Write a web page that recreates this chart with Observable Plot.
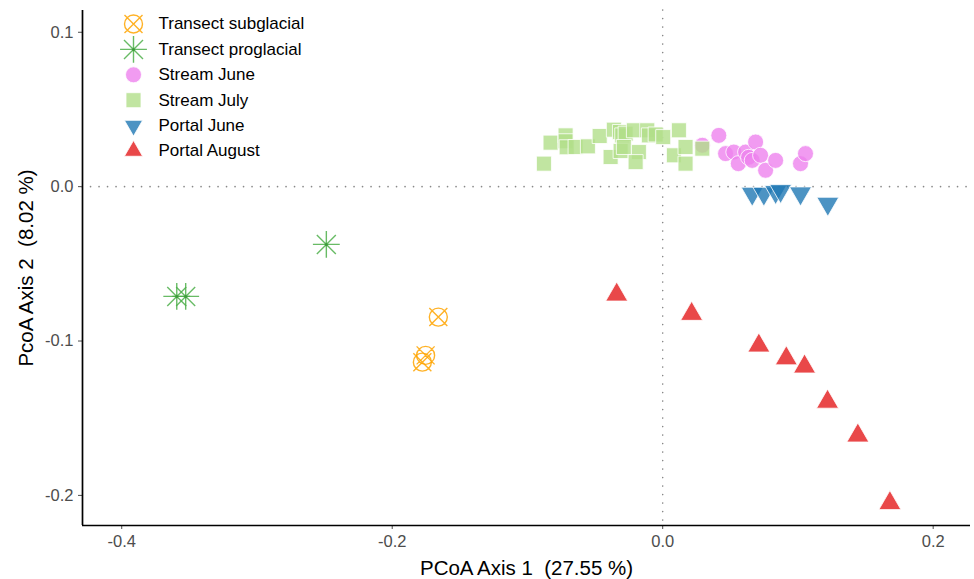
<!DOCTYPE html>
<html><head><meta charset="utf-8">
<script src="https://cdn.jsdelivr.net/npm/d3@7"></script>
<script src="https://cdn.jsdelivr.net/npm/@observablehq/plot@0.6"></script>
<style>
body{margin:0;background:#fff}
#chart svg text{white-space:pre}
</style>
</head><body><div id="chart"></div>
<script>
// ---- data ----
const groups = ["Transect subglacial","Transect proglacial","Stream June","Stream July","Portal June","Portal August"];
const subglacialX = [-0.1659,-0.1753,-0.1777];
const subglacialY = [-0.0845,-0.1093,-0.1137];
const proglacialX = [-0.2487,-0.3593,-0.3527];
const proglacialY = [-0.0374,-0.0711,-0.0711];
const streamJuneX = [0.0293,0.0415,0.0465,0.0526,0.0559,0.0613,0.0635,0.0662,0.0687,0.0724,0.0761,0.0835,0.1019,0.1056];
const streamJuneY = [0.0268,0.0332,0.0214,0.0224,0.0149,0.0224,0.0190,0.0170,0.0289,0.0203,0.0106,0.0170,0.0149,0.0214];
const streamJulyX = [-0.0878,-0.0829,-0.0718,-0.0718,-0.0710,-0.0644,-0.0553,-0.0466,-0.0385,-0.0361,-0.0316,-0.0299,-0.0311,-0.0274,-0.0287,-0.0213,-0.0176,-0.0200,-0.0114,-0.0102,-0.0052,0.0004,0.0120,0.0083,0.0169,0.0169,0.0293];
const streamJulyY = [0.0149,0.0285,0.0332,0.0294,0.0255,0.0257,0.0261,0.0328,0.0192,0.0369,0.0354,0.0332,0.0231,0.0343,0.0257,0.0365,0.0224,0.0159,0.0365,0.0332,0.0338,0.0321,0.0365,0.0203,0.0257,0.0149,0.0246];
const portalJuneX = [0.0662,0.0748,0.0835,0.0872,0.1019,0.1221];
const portalJuneY = [-0.0045,-0.0045,-0.0034,-0.0027,-0.0043,-0.0110];
const portalAugustX = [-0.0340,0.0214,0.0711,0.0914,0.1049,0.1219,0.1443,0.1680];
const portalAugustY = [-0.0700,-0.0825,-0.1030,-0.1113,-0.1166,-0.1394,-0.1613,-0.2051];
const xTicks = [-0.4,-0.2,0.0,0.2];
const yTicks = [-0.2,-0.1,0.0,0.1];
const xDomain = [-0.429, 0.2276];
const yDomain = [-0.2195, 0.1141];
const refLines = [0];
const xTitle = "PCoA Axis 1  (27.55 %)";
const yTitle = "PcoA Axis 2  (8.02 %)";

const xs = [subglacialX, proglacialX, streamJuneX, streamJulyX, portalJuneX, portalAugustX];
const ys = [subglacialY, proglacialY, streamJuneY, streamJulyY, portalJuneY, portalAugustY];
const rows = groups.flatMap((g, gi) => xs[gi].map((x, i) => ({group: g, x, y: ys[gi][i]})));

// ---- symbols (R pch-like) ----
const sym = fn => ({draw(ctx, size){ fn(ctx, Math.sqrt(size / Math.PI)); }});
const circleX = sym((c, s) => {
  c.moveTo(s, 0); c.arc(0, 0, s, 0, 2 * Math.PI);
  c.moveTo(-s, -s); c.lineTo(s, s); c.moveTo(-s, s); c.lineTo(s, -s);
});
const asterisk8 = sym((c, s) => {
  const p = s * Math.SQRT2;
  c.moveTo(-p, 0); c.lineTo(p, 0); c.moveTo(0, -p); c.lineTo(0, p);
  c.moveTo(-s, -s); c.lineTo(s, s); c.moveTo(-s, s); c.lineTo(s, -s);
});
const circle = sym((c, s) => { c.moveTo(s, 0); c.arc(0, 0, s, 0, 2 * Math.PI); c.closePath(); });
const square = sym((c, s) => { c.moveTo(-s, -s); c.lineTo(s, -s); c.lineTo(s, s); c.lineTo(-s, s); c.closePath(); });
const triUp = sym((c, s) => { const h = s * Math.sqrt(3) / 2; c.moveTo(0, -s); c.lineTo(h, s / 2); c.lineTo(-h, s / 2); c.closePath(); });
const triDown = sym((c, s) => { const h = s * Math.sqrt(3) / 2; c.moveTo(0, s); c.lineTo(h, -s / 2); c.lineTo(-h, -s / 2); c.closePath(); });

const styles = [
  {symbol: circleX, r: 9, fill: "none", stroke: "#FFA500", strokeOpacity: 0.85, strokeWidth: 1.4},
  {symbol: asterisk8, r: 9.5, fill: "none", stroke: "#4DAF4A", strokeOpacity: 0.85, strokeWidth: 1.4},
  {symbol: circle, r: 8, fill: "#EE82EE", fillOpacity: 0.8, stroke: "white", strokeWidth: 0.8},
  {symbol: square, r: 7.5, fill: "#B2DF8A", fillOpacity: 0.8, stroke: "white", strokeWidth: 0.8},
  {symbol: triDown, r: 12.7, fill: "#1F78B4", fillOpacity: 0.8, stroke: "white", strokeWidth: 0.8},
  {symbol: triUp, r: 12.7, fill: "#E31A1C", fillOpacity: 0.8, stroke: "white", strokeWidth: 0.8}
];
const legendSize = [9, 9.5, 8, 7.5, 10.5, 10.5];

const marks = [
  Plot.ruleX(refLines, {stroke: "#888888", strokeWidth: 1.6, strokeDasharray: "0.1,8.4", strokeLinecap: "round"}),
  Plot.ruleY(refLines, {stroke: "#888888", strokeWidth: 1.6, strokeDasharray: "0.1,8.4", strokeLinecap: "round"}),
  Plot.ruleY([yDomain[0]], {stroke: "black", strokeWidth: 1.7}),
  Plot.ruleX([xDomain[0]], {stroke: "black", strokeWidth: 1.7})
];
groups.forEach((g, gi) => {
  marks.push(Plot.dot(rows.filter(d => d.group === g), {x: "x", y: "y", ...styles[gi]}));
  if (gi === 1) marks.push(Plot.dot(rows.filter(d => d.group === g), {x: "x", y: "y", r: 1.5, fill: "#3d9a3a"}));
});
// legend
groups.forEach((g, gi) => {
  const dy = 13.5 + gi * 25.4;
  marks.push(Plot.dot([g], {frameAnchor: "top-left", dx: 51, dy, ...styles[gi], r: legendSize[gi]}));
  if (gi === 1) marks.push(Plot.dot([g], {frameAnchor: "top-left", dx: 51, dy, r: 1.5, fill: "#3d9a3a"}));
  marks.push(Plot.text([g], {frameAnchor: "top-left", dx: 76, dy, text: d => d, textAnchor: "start", lineAnchor: "middle", fontSize: 17, fill: "black"}));
});
// axis titles
marks.push(Plot.text([xTitle], {frameAnchor: "bottom", dy: 43, text: d => d, textAnchor: "middle", lineAnchor: "middle", fontSize: 20.5, fill: "black"}));
marks.push(Plot.text([yTitle], {frameAnchor: "left", dx: -56, rotate: -90, text: d => d, textAnchor: "middle", lineAnchor: "middle", fontSize: 20.5, fill: "black"}));

const chart = Plot.plot({
  width: 974, height: 579,
  marginLeft: 82, marginRight: 4, marginTop: 10, marginBottom: 54,
  style: {fontFamily: "'Liberation Sans', Arial, sans-serif", fontSize: "16.5px", color: "#4d4d4d", background: "white"},
  x: {domain: xDomain, ticks: xTicks, tickFormat: d => d.toFixed(1), tickSize: 4, tickPadding: 6, label: null},
  y: {domain: yDomain, ticks: yTicks, tickFormat: d => d.toFixed(1), tickSize: 4, tickPadding: 5, label: null},
  marks
});
document.getElementById("chart").append(chart);
</script>
</body></html>
